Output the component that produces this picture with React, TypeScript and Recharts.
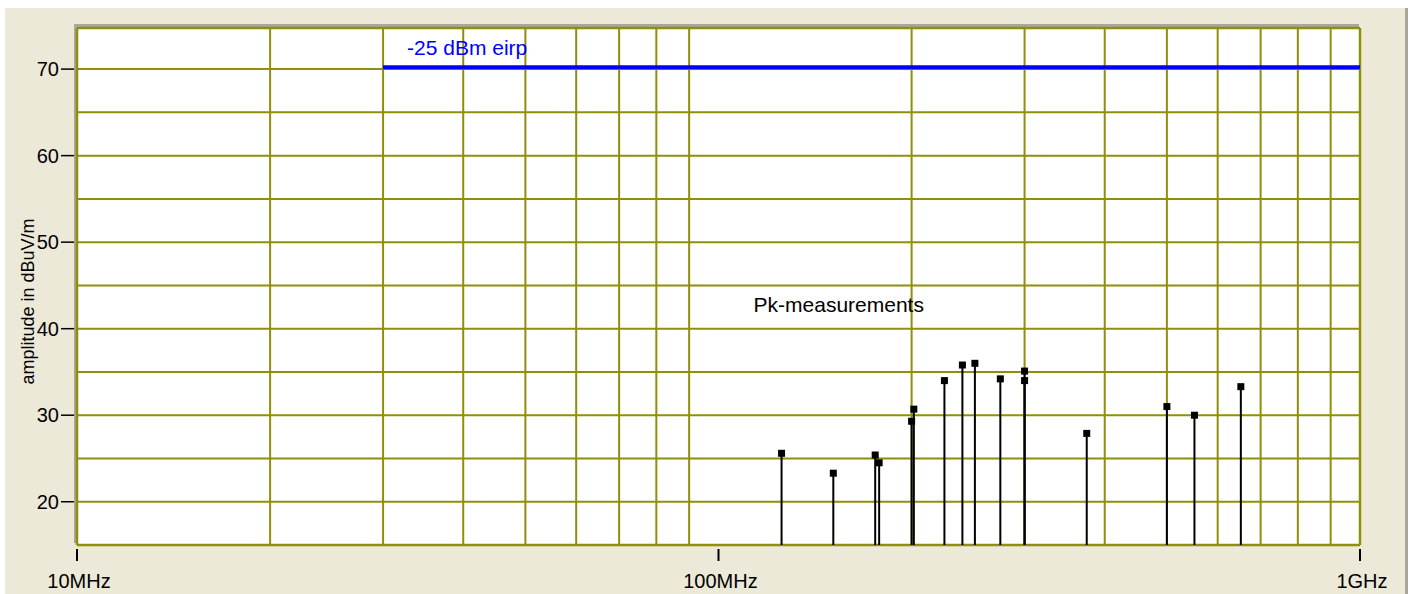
import React from 'react';
import {
  ComposedChart,
  Line,
  Scatter,
  XAxis,
  YAxis,
  CartesianGrid,
  ReferenceLine,
  ReferenceDot,
} from 'recharts';

// Peak measurements (frequency in MHz, level in dBuV/m)
const pkFreq = [125.4, 151, 175.5, 178, 200, 201.6, 225, 240, 251, 275, 300, 300, 375, 500, 552, 652];
const pkLevel = [25.6, 23.3, 25.4, 24.5, 29.3, 30.7, 34.0, 35.8, 36.0, 34.2, 35.1, 34.0, 27.9, 31.0, 30.0, 33.3];

// Limit line -25 dBm eirp
const limitFreq = [30, 1000];
const limitLevel = [70.2, 70.2];

// Axes
const xTicks = [10, 100, 1000];
const xTickLabels = ['10MHz', '100MHz', '1GHz'];
const xGrid = [20, 30, 40, 50, 60, 70, 80, 90, 200, 300, 400, 500, 600, 700, 800, 900];
const yTicks = [20, 30, 40, 50, 60, 70];
const yGrid = [20, 25, 30, 35, 40, 45, 50, 55, 60, 65, 70];
const xMin = 10;
const xMax = 1000;
const yMin = 15;
const yMax = 74.75;

const pkData = pkFreq.map((f, i) => ({ f, v: pkLevel[i] }));
const limitData = limitFreq.map((f, i) => ({ f, v: limitLevel[i] }));

const GRID = '#8f8f0a';
const FONT = '"Liberation Sans", Arial, sans-serif';

const XTick = (props: any) => {
  const { x, y, payload } = props;
  const idx = xTicks.indexOf(payload.value);
  return (
    <g>
      <line x1={x} x2={x} y1={y + 4} y2={y + 16} stroke="#000" strokeWidth={2} />
      <text x={x + 2} y={y + 43} textAnchor="middle" fontSize={20} fill="#000" fontFamily={FONT}>
        {xTickLabels[idx]}
      </text>
    </g>
  );
};

const YTick = (props: any) => {
  const { x, y, payload } = props;
  return (
    <g>
      <line x1={x - 16} x2={x - 3} y1={y} y2={y} stroke="#000" strokeWidth={1.5} />
      <text x={x - 18} y={y} dy="0.36em" textAnchor="end" fontSize={20} fill="#000" fontFamily={FONT}>
        {payload.value}
      </text>
    </g>
  );
};

const Marker = (props: any) => {
  const { cx, cy } = props;
  return <rect x={cx - 3.5} y={cy - 3.5} width={7} height={7} fill="#000" />;
};

const textLabel = (value: string, color: string) => (props: any) => {
  const { viewBox } = props;
  return (
    <text x={viewBox.x} y={viewBox.y} fontSize={21} fill={color} fontFamily={FONT} textAnchor="start">
      {value}
    </text>
  );
};

// rotated y axis title, sits a bit below the middle of the axis like the original
const YTitle = (props: any) => {
  const { viewBox } = props;
  const cx = viewBox.x + 11;
  const cy = viewBox.y + viewBox.height / 2 + 15;
  return (
    <text
      x={cx}
      y={cy}
      transform={`rotate(-90 ${cx} ${cy})`}
      textAnchor="middle"
      dy="0.35em"
      fontSize={18}
      fill="#000"
      fontFamily={FONT}
    >
      amplitude in dBuV/m
    </text>
  );
};

export default function App() {
  return (
    <div style={{ position: 'absolute', left: 0, top: 0, width: 1408, height: 594, background: '#fff', overflow: 'hidden' }}>
      <div
        style={{
          position: 'absolute',
          left: 5,
          top: 8,
          width: 1400,
          height: 586,
          background: '#ECE9D8',
          borderRight: '3px solid #a8a79c',
        }}
      />
      <div style={{ position: 'absolute', left: 74, top: 24, width: 1285, height: 519, background: '#a8a79c' }} />
      <div style={{ position: 'absolute', left: 0, top: 0 }}>
        <ComposedChart width={1408} height={594} margin={{ top: 28, right: 48, bottom: 0, left: 17 }}>
          <CartesianGrid horizontal={false} vertical={false} fill="#fff" />
          <XAxis
            type="number"
            dataKey="f"
            scale="log"
            domain={[xMin, xMax]}
            ticks={xTicks}
            allowDataOverflow
            axisLine={false}
            tickLine={false}
            tickSize={0}
            tickMargin={0}
            height={49}
            tick={<XTick />}
            interval={0}
          />
          <YAxis
            type="number"
            dataKey="v"
            domain={[yMin, yMax]}
            ticks={yTicks}
            allowDataOverflow
            axisLine={false}
            tickLine={false}
            tickSize={0}
            tickMargin={0}
            width={60}
            tick={<YTick />}
            interval={0}
            label={{ content: <YTitle /> }}
          />
          {xGrid.map((g) => (
            <ReferenceLine key={'x' + g} x={g} stroke={GRID} strokeWidth={2} />
          ))}
          {yGrid.map((g) => (
            <ReferenceLine key={'y' + g} y={g} stroke={GRID} strokeWidth={2} />
          ))}
          <ReferenceLine x={xMin} stroke={GRID} strokeWidth={2.5} />
          <ReferenceLine x={xMax} stroke={GRID} strokeWidth={2.5} />
          <ReferenceLine y={yMin} stroke={GRID} strokeWidth={2.5} />
          <ReferenceLine y={yMax} stroke={GRID} strokeWidth={2.5} />
          {pkData.map((d, i) => (
            <ReferenceLine
              key={'s' + i}
              segment={[
                { x: d.f, y: yMin },
                { x: d.f, y: d.v },
              ]}
              stroke="#000"
              strokeWidth={2}
            />
          ))}
          <Line
            data={limitData}
            dataKey="v"
            type="linear"
            stroke="#0000ff"
            strokeWidth={4}
            dot={false}
            activeDot={false}
            isAnimationActive={false}
          />
          <Scatter data={pkData} dataKey="v" shape={<Marker />} isAnimationActive={false} />
          <ReferenceDot x={32.7} y={71.63} r={0} fill="none" stroke="none" label={textLabel('-25 dBm eirp', '#0000ff')} />
          <ReferenceDot x={113.4} y={41.96} r={0} fill="none" stroke="none" label={textLabel('Pk-measurements', '#000')} />
        </ComposedChart>
      </div>
    </div>
  );
}
